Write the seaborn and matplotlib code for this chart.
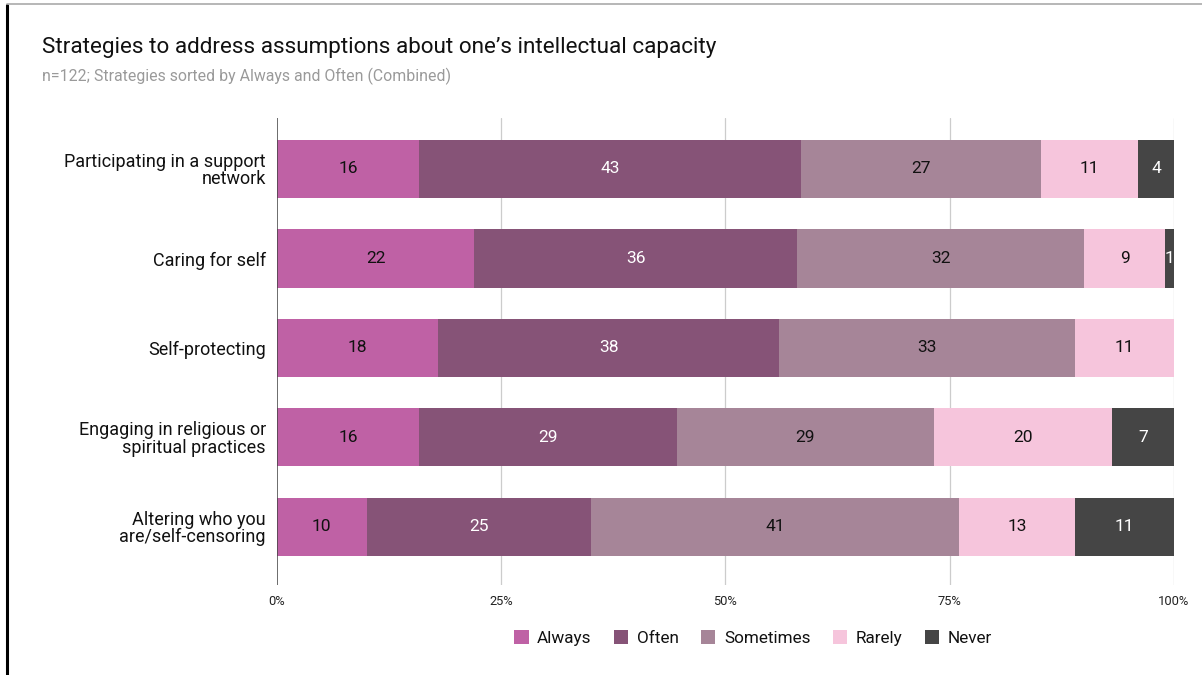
import matplotlib
matplotlib.use("Agg")
import matplotlib.pyplot as plt
from matplotlib.lines import Line2D
from matplotlib.patches import Patch
import numpy as np
import pandas as pd
import seaborn as sns

# Survey responses (percent of respondents) per strategy
strategies = [
    "Participating in a support\nnetwork",
    "Caring for self",
    "Self-protecting",
    "Engaging in religious or\nspiritual practices",
    "Altering who you\nare/self-censoring",
]
always = [16, 22, 18, 16, 10]
often = [43, 36, 38, 29, 25]
sometimes = [27, 32, 33, 29, 41]
rarely = [11, 9, 11, 20, 13]
never = [4, 1, 0, 7, 11]

series_names = ["Always", "Often", "Sometimes", "Rarely", "Never"]
series_colors = ["#bf61a5", "#865377", "#a68598", "#f6c5dc", "#454545"]
label_colors = ["#111111", "white", "#111111", "#111111", "white"]

sns.set_theme(style="white")
plt.rcParams["font.family"] = ["Roboto", "DejaVu Sans"]

values = np.array([always, often, sometimes, rarely, never], dtype=float)
totals = values.sum(axis=0)
shares = values / totals * 100.0
cum = np.cumsum(shares, axis=0)
starts = cum - shares

fig = plt.figure(figsize=(12.02, 6.75), dpi=100)
ax = fig.add_axes([0.2304, 0.1333, 0.7463, 0.6919])

# Stacked 100% bars: draw cumulative layers from the back to the front
for i in range(len(series_names) - 1, -1, -1):
    df = pd.DataFrame({"strategy": strategies, "cum": cum[i]})
    sns.barplot(data=df, x="cum", y="strategy", orient="h", color=series_colors[i],
                saturation=1, width=0.65, ax=ax, zorder=3, linewidth=0)

# Segment labels showing the raw values
for i in range(len(series_names)):
    for j in range(len(strategies)):
        if values[i, j] <= 0:
            continue
        ax.text(starts[i, j] + shares[i, j] / 2, j, f"{int(values[i, j])}",
                ha="center", va="center", fontsize=12.5, color=label_colors[i], zorder=5)

ax.set_xlim(0, 100)
ax.set_ylim(4.65, -0.57)
ax.set_xticks([0, 25, 50, 75, 100])
ax.set_xticklabels(["0%", "25%", "50%", "75%", "100%"], fontsize=9.3, color="#222222")
ax.tick_params(axis="x", length=0, pad=7)
ax.tick_params(axis="y", length=0, pad=8, labelsize=13.0, labelcolor="#111111")
for lbl in ax.get_yticklabels():
    lbl.set_multialignment("right")
    lbl.set_linespacing(0.95)
ax.set_xlabel("")
ax.set_ylabel("")
for s in ax.spines.values():
    s.set_visible(False)
for x in [25, 50, 75, 100]:
    ax.axvline(x, color="#cccccc", lw=0.9, zorder=1)
ax.axvline(0, color="#444444", lw=1.1, zorder=4)

fig.text(42 / 1202, 1 - 48 / 675, "Strategies to address assumptions about one\u2019s intellectual capacity",
         fontsize=16.2, color="#111111", va="center", ha="left")
fig.text(42 / 1202, 1 - 76 / 675, "n=122; Strategies sorted by Always and Often (Combined)",
         fontsize=11.4, color="#9a9a9a", va="center", ha="left")

handles = [Patch(facecolor=c, edgecolor="none", label=n) for n, c in zip(series_names, series_colors)]
fig.legend(handles=handles, loc="center", bbox_to_anchor=(0.6265, 1 - 638 / 675), ncol=5,
           frameon=False, fontsize=12.3, handlelength=0.85, handleheight=0.85,
           handletextpad=0.5, columnspacing=1.3, labelcolor="#111111")

# Page frame lines
fig.add_artist(Line2D([7 / 1202, 7 / 1202], [0, 1 - 5 / 675], color="black", lw=2.2,
                      transform=fig.transFigure))
fig.add_artist(Line2D([7 / 1202, 1], [1 - 4 / 675, 1 - 4 / 675], color="#aaaaaa", lw=1.2,
                      transform=fig.transFigure))

fig.savefig("out.png", dpi=100, facecolor="white")
